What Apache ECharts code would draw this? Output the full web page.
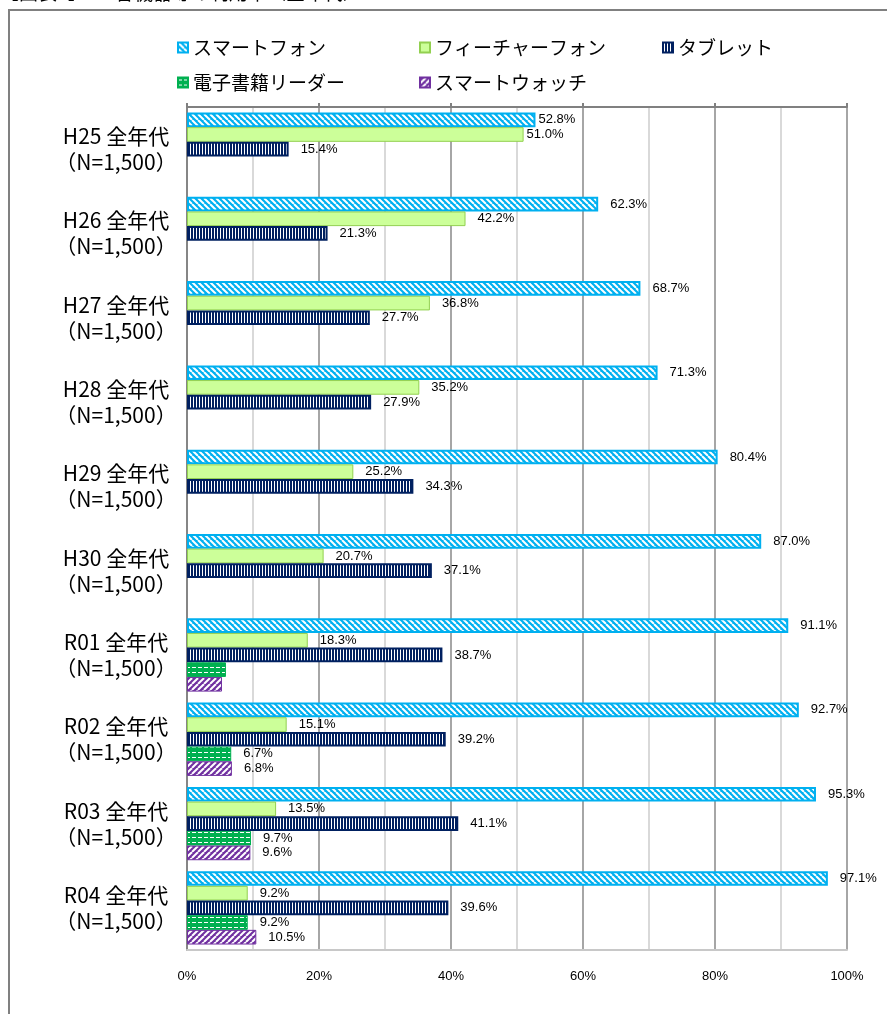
<!DOCTYPE html>
<html lang="ja">
<head>
    <meta charset="UTF-8">
    <title>機器等の利用率</title>
    <style>
        html, body { margin: 0; padding: 0; background: #fff; }
        #main { width: 887px; height: 1014px; }
    </style>
</head>
<body>
    <div id="main"></div>
    <script src="https://cdn.jsdelivr.net/npm/echarts@6/dist/echarts.min.js"></script>
    <script>
    // データ
    var years = ['H25', 'H26', 'H27', 'H28', 'H29', 'H30', 'R01', 'R02', 'R03', 'R04'];
    var sampleLabel = '（N=1,500）';
    var seriesNames = ['スマートフォン', 'フィーチャーフォン', 'タブレット', '電子書籍リーダー', 'スマートウォッチ'];
    var smartphone = [52.8, 62.3, 68.7, 71.3, 80.4, 87.0, 91.1, 92.7, 95.3, 97.1];
    var featurePhone = [51.0, 42.2, 36.8, 35.2, 25.2, 20.7, 18.3, 15.1, 13.5, 9.2];
    var tablet = [15.4, 21.3, 27.7, 27.9, 34.3, 37.1, 38.7, 39.2, 41.1, 39.6];
    var ereader = [null, null, null, null, null, null, 5.9, 6.7, 9.7, 9.2];
    var smartwatch = [null, null, null, null, null, null, 5.3, 6.8, 9.6, 10.5];
    var xTicks = [0, 20, 40, 60, 80, 100];

    var jpFont = '"Noto Sans CJK JP", sans-serif';
    var numFont = '"Liberation Sans", Arial, sans-serif';

    // 塗りパターン
    function makePattern(w, h, bg, draw) {
        var c = document.createElement('canvas');
        c.width = w; c.height = h;
        var ctx = c.getContext('2d');
        ctx.fillStyle = bg;
        ctx.fillRect(0, 0, w, h);
        ctx.strokeStyle = '#fff';
        ctx.fillStyle = '#fff';
        draw(ctx);
        return { image: c, repeat: 'repeat' };
    }
    var patSmart = makePattern(6, 6, '#00B0F0', function (ctx) {
        ctx.lineWidth = 2;
        for (var k = -6; k <= 6; k += 6) {
            ctx.beginPath(); ctx.moveTo(k, 0); ctx.lineTo(k + 6, 6); ctx.stroke();
        }
    });
    var patTablet = makePattern(3, 3, '#002060', function (ctx) {
        ctx.fillRect(1, 0, 1, 3);
    });
    var patReader = makePattern(6, 5, '#00B050', function (ctx) {
        ctx.fillRect(0, 2, 4, 1);
    });
    var patWatch = makePattern(6, 6, '#7030A0', function (ctx) {
        ctx.lineWidth = 2;
        for (var k = -6; k <= 6; k += 6) {
            ctx.beginPath(); ctx.moveTo(k, 6); ctx.lineTo(k + 6, 0); ctx.stroke();
        }
    });

    var fills = [patSmart, '#CCFF99', patTablet, patReader, patWatch];
    var borders = ['#00B0F0', '#92D050', '#002060', '#00B050', '#7030A0'];
    var borderWidths = [2, 1, 2, 1, 1];
    var values = [smartphone, featurePhone, tablet, ereader, smartwatch];

    var categories = years.map(function (y) { return y + ' 全年代\n' + sampleLabel; });

    function labelFmt(p) {
        if (p.value == null) return '';
        // R01の電子書籍リーダー・スマートウォッチはラベルなし
        if (p.seriesIndex >= 3 && p.dataIndex === 6) return '';
        return Number(p.value).toFixed(1) + '%';
    }

    var series = values.map(function (arr, i) {
        return {
            name: seriesNames[i],
            type: 'bar',
            xAxisIndex: 0,
            barGap: '0%',
            barCategoryGap: '13%',
            itemStyle: { color: fills[i], borderColor: borders[i], borderWidth: borderWidths[i] },
            label: {
                show: true,
                position: 'right',
                distance: 12,
                formatter: labelFmt,
                color: '#000',
                fontSize: 13,
                fontFamily: numFont
            },
            data: arr.map(function (v, j) {
                if (j === 0 && i < 2) return { value: v, label: { distance: 3 } };
                return v;
            })
        };
    });

    var legendPos = [[172, 33], [414, 33], [657, 33], [172, 68], [414, 68]];
    var legends = seriesNames.map(function (n, i) {
        return {
            data: [n],
            left: legendPos[i][0],
            top: legendPos[i][1],
            icon: 'rect',
            itemWidth: 10,
            itemHeight: 10,
            itemGap: 4,
            selectedMode: false,
            textStyle: { fontSize: 19, color: '#000', fontFamily: jpFont }
        };
    });

    var myChart = echarts.init(document.getElementById('main'));
    var option = {
        animation: false,
        backgroundColor: '#fff',
        legend: legends,
        graphic: [
            {
                type: 'rect',
                shape: { x: 9, y: 10, width: 900, height: 1030 },
                style: { fill: 'none', stroke: '#808080', lineWidth: 2 },
                silent: true
            },
            {
                type: 'text',
                left: 0,
                top: -17,
                style: { text: '【図表1】　　各機器等の利用率（全年代）', font: '19px ' + jpFont, fill: '#000' },
                silent: true
            }
        ],
        grid: { left: 187, right: 40, top: 107, bottom: 64 },
        xAxis: [
            {
                type: 'value',
                position: 'bottom',
                min: xTicks[0],
                max: xTicks[xTicks.length - 1],
                interval: xTicks[1] - xTicks[0],
                axisLine: { show: true, lineStyle: { color: '#c8c8c8', width: 2 } },
                axisTick: { show: false },
                axisLabel: { formatter: '{value}%', margin: 20, color: '#000', fontSize: 13, fontFamily: numFont },
                splitLine: { show: true, lineStyle: { color: '#a6a6a6', width: 2 } },
                minorTick: { show: false, splitNumber: 2 },
                minorSplitLine: { show: true, lineStyle: { color: '#d9d9d9', width: 2 } }
            },
            {
                type: 'value',
                position: 'top',
                min: xTicks[0],
                max: xTicks[xTicks.length - 1],
                interval: xTicks[1] - xTicks[0],
                axisLine: { show: true, lineStyle: { color: '#808080', width: 2 } },
                axisTick: { show: true, length: 4, lineStyle: { color: '#808080', width: 2 } },
                axisLabel: { show: false },
                splitLine: { show: false }
            }
        ],
        yAxis: {
            type: 'category',
            data: categories,
            inverse: true,
            axisLine: { lineStyle: { color: '#868686', width: 2 } },
            axisTick: { length: 5, lineStyle: { color: '#868686', width: 2 } },
            axisLabel: {
                align: 'center',
                margin: 71,
                fontSize: 21,
                lineHeight: 26,
                color: '#000',
                fontFamily: jpFont
            }
        },
        series: series
    };
    myChart.setOption(option);
    </script>
</body>
</html>
